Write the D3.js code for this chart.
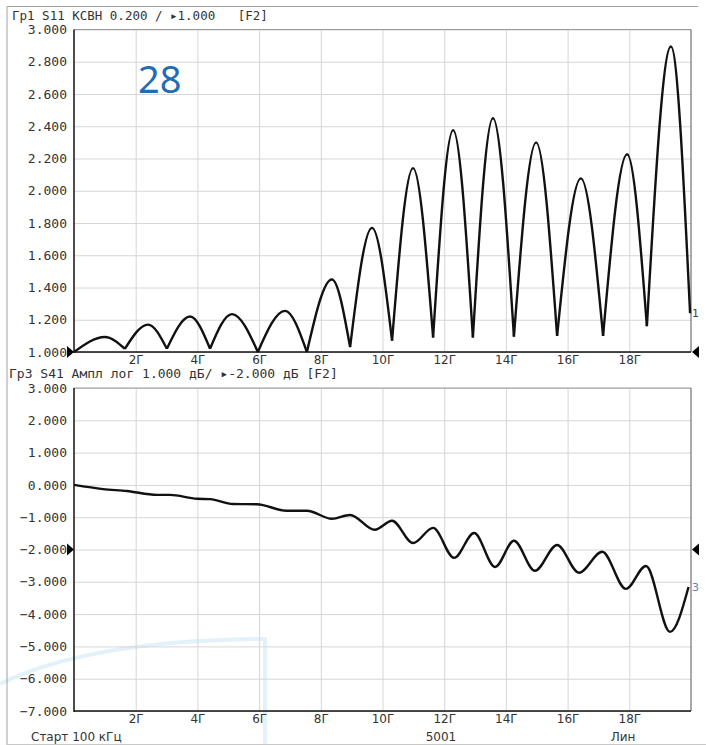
<!DOCTYPE html>
<html>
<head>
<meta charset="utf-8">
<script src="https://cdn.jsdelivr.net/npm/d3@7"></script>
<style>
  html, body { margin: 0; padding: 0; background: #fff; }
  svg { display: block; }
</style>
</head>
<body>
<svg id="chart" width="706" height="745"></svg>
<script>
// ---- data ----
// frequency in GHz, S11 as VSWR (local extrema of the trace, in order)
const s11Freq = [0.00, 1.00, 1.65, 2.40, 3.01, 3.76, 4.41, 5.12, 5.96, 6.84, 7.55, 8.36, 8.95, 9.66,
  10.31, 10.99, 11.64, 12.29, 12.93, 13.58, 14.26, 14.98, 15.66, 16.43, 17.15, 17.93, 18.57, 19.35, 19.97];
const s11Vswr = [1.000, 1.093, 1.020, 1.170, 1.020, 1.220, 1.020, 1.235, 1.000, 1.255, 1.000, 1.450, 1.030, 1.770,
  1.070, 2.140, 1.090, 2.375, 1.090, 2.450, 1.095, 2.300, 1.100, 2.077, 1.100, 2.226, 1.160, 2.895, 1.240];

// S41 magnitude in dB
const s41Freq = [0.00, 0.94, 1.72, 2.69, 3.11, 3.99, 4.41, 5.15, 5.93, 6.90, 7.55, 8.36, 8.95, 9.75,
  10.31, 10.99, 11.64, 12.32, 12.97, 13.65, 14.26, 14.94, 15.66, 16.37, 17.12, 17.89, 18.54, 19.32, 19.92];
const s41Db = [0.00, -0.13, -0.19, -0.31, -0.31, -0.43, -0.44, -0.59, -0.60, -0.80, -0.80, -1.05, -0.93, -1.39,
  -1.11, -1.80, -1.33, -2.26, -1.49, -2.54, -1.73, -2.66, -1.86, -2.72, -2.07, -3.22, -2.51, -4.55, -3.16];

const freqTicks = [2, 4, 6, 8, 10, 12, 14, 16, 18];
const vswrTicks = [1.0, 1.2, 1.4, 1.6, 1.8, 2.0, 2.2, 2.4, 2.6, 2.8, 3.0];
const dbTicks = [-7, -6, -5, -4, -3, -2, -1, 0, 1, 2, 3];

const header1 = "Гр1 S11 КСВН 0.200 / ▸1.000   [F2]";
const header2 = "Гр3 S41 Ампл лог 1.000 дБ/ ▸-2.000 дБ [F2]";
const footer = ["Старт 100 кГц", "5001", "Лин"];

// ---- layout ----
const svg = d3.select("#chart");
const mono = "'DejaVu Sans Mono', monospace";
const sans = "'DejaVu Sans', sans-serif";

const x = d3.scaleLinear().domain([0, 20]).range([74, 691]);
const yTop = d3.scaleLinear().domain([1, 3]).range([352, 29.5]);
const yBot = d3.scaleLinear().domain([-7, 3]).range([711, 388]);

// faint logo watermark behind everything
svg.append("path")
  .attr("d", "M0,684 Q90,640 265,639 L265,745")
  .attr("fill", "none")
  .attr("stroke", "#e3f1fb")
  .attr("stroke-width", 4);

// outer frame
svg.append("path")
  .attr("d", "M7,745 L7,6.5 L698,6.5")
  .attr("fill", "none").attr("stroke", "#a0a0a0").attr("stroke-width", 1);
svg.append("line")
  .attr("x1", 7).attr("x2", 706).attr("y1", 744.5).attr("y2", 744.5)
  .attr("stroke", "#c8c8c8");

function drawPanel(y, ticks, refValue) {
  const g = svg.append("g");
  const [y0, y1] = y.range();

  // horizontal grid + labels
  const ya = d3.axisLeft(y).tickValues(ticks).tickFormat(d3.format(".3f"))
    .tickSize(-(x.range()[1] - x.range()[0])).tickPadding(7);
  const gy = g.append("g").attr("transform", `translate(${x.range()[0]},0)`).call(ya);
  gy.select(".domain").remove();
  gy.selectAll("line").attr("stroke", "#d6d6d6");
  gy.selectAll("text").attr("font-family", mono).attr("font-size", 13).attr("fill", "#333");

  // vertical grid + labels
  const xa = d3.axisBottom(x).tickValues(freqTicks).tickFormat(d => d + "Г")
    .tickSize(-(y0 - y1)).tickPadding(3);
  const gx = g.append("g").attr("transform", `translate(0,${y0})`).call(xa);
  gx.select(".domain").remove();
  gx.selectAll("line").attr("stroke", "#d6d6d6");
  gx.selectAll("text").attr("font-family", sans).attr("font-size", 12).attr("fill", "#333");

  // borders
  g.append("line").attr("x1", x(0)).attr("x2", x(20)).attr("y1", y1).attr("y2", y1)
    .attr("stroke", "#9a9a9a");
  g.append("line").attr("x1", x(20)).attr("x2", x(20)).attr("y1", y1).attr("y2", y0)
    .attr("stroke", "#555");
  g.append("line").attr("x1", x(0)).attr("x2", x(0)).attr("y1", y1).attr("y2", y0 + 1)
    .attr("stroke", "#111").attr("stroke-width", 1.5);
  g.append("line").attr("x1", x(0)).attr("x2", x(20)).attr("y1", y0).attr("y2", y0)
    .attr("stroke", "#111").attr("stroke-width", 1.5);

  // reference level markers
  const yr = y(refValue);
  g.append("path")
    .attr("d", `M${x(0) - 7},${yr - 6} L${x(0)},${yr} L${x(0) - 7},${yr + 6} Z`)
    .attr("fill", "#000");
  g.append("path")
    .attr("d", `M${x(20) + 8},${yr - 6} L${x(20) + 1},${yr} L${x(20) + 8},${yr + 6} Z`)
    .attr("fill", "#000");
  return g;
}

const gTop = drawPanel(yTop, vswrTicks, 1.0);
const gBot = drawPanel(yBot, dbTicks, -2.0);

// headers
svg.append("text").attr("x", 12).attr("y", 20).text(header1)
  .attr("font-family", mono).attr("font-size", 12.5).attr("fill", "#333")
  .style("white-space", "pre");
svg.append("text").attr("x", 9).attr("y", 378).text(header2)
  .attr("font-family", mono).attr("font-size", 13).attr("fill", "#333")
  .style("white-space", "pre");

// footer
svg.append("text").attr("x", 31).attr("y", 741).text(footer[0])
  .attr("font-family", sans).attr("font-size", 12).attr("fill", "#333");
svg.append("text").attr("x", 441).attr("y", 741).attr("text-anchor", "middle").text(footer[1])
  .attr("font-family", sans).attr("font-size", 12).attr("fill", "#333");
svg.append("text").attr("x", 623).attr("y", 741).attr("text-anchor", "middle").text(footer[2])
  .attr("font-family", sans).attr("font-size", 12).attr("fill", "#333");

// watermark number
svg.append("text").attr("x", 138).attr("y", 93).text("28")
  .attr("font-family", "'Noto Sans', sans-serif").attr("font-size", 38).attr("fill", "#1f6db3");

// ---- traces ----
// S11: each lobe between two minima drawn as its own monotone segment,
// so the minima stay sharp and the maxima stay round
const s11 = s11Freq.map((f, i) => ({ f, v: s11Vswr[i] }));
const lobes = [];
for (let i = 0; i + 2 < s11.length; i += 2) lobes.push(s11.slice(i, i + 3));
const lineTop = d3.line().x(d => x(d.f)).y(d => yTop(d.v)).curve(d3.curveMonotoneX);
gTop.append("g").selectAll("path").data(lobes).join("path")
  .attr("d", lineTop)
  .attr("fill", "none").attr("stroke", "#111").attr("stroke-width", 2.4)
  .attr("stroke-linejoin", "round");

const s41 = s41Freq.map((f, i) => ({ f, v: s41Db[i] }));
const lineBot = d3.line().x(d => x(d.f)).y(d => yBot(d.v)).curve(d3.curveMonotoneX);
gBot.append("path").datum(s41)
  .attr("d", lineBot)
  .attr("fill", "none").attr("stroke", "#111").attr("stroke-width", 2.4)
  .attr("stroke-linejoin", "round");

// trace numbers at the right edge
const lastTop = s11[s11.length - 1];
svg.append("text").attr("x", x(20) + 1).attr("y", yTop(lastTop.v) + 4).text("1")
  .attr("font-family", sans).attr("font-size", 11).attr("fill", "#444");
const lastBot = s41[s41.length - 1];
svg.append("text").attr("x", x(20) + 1).attr("y", yBot(lastBot.v) + 4).text("3")
  .attr("font-family", sans).attr("font-size", 11).attr("fill", "#5b7fb5");
</script>
</body>
</html>
